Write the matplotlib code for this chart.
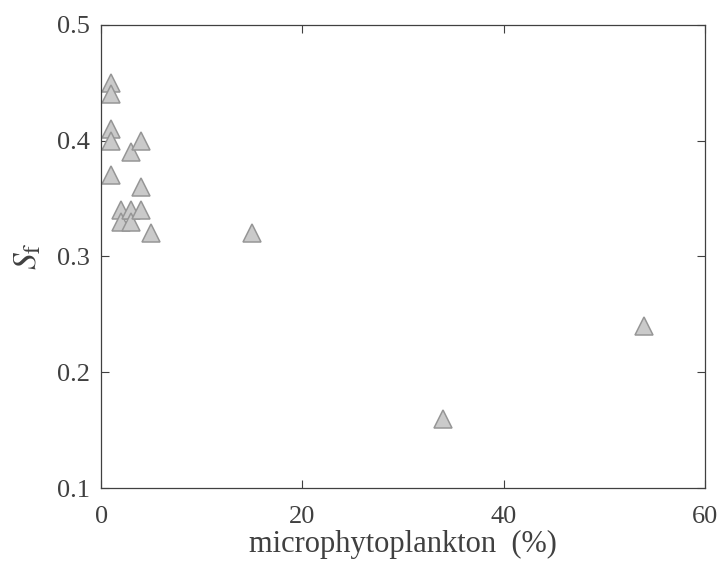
import numpy as np
import matplotlib
matplotlib.use("Agg")
import matplotlib.pyplot as plt

plt.rcParams['font.family'] = ['Liberation Serif', 'DejaVu Serif']
plt.rcParams['mathtext.fontset'] = 'stix'

micro = [1, 1, 1, 1, 1, 2, 2, 3, 3, 3, 4, 4, 4, 5, 15, 34, 54]
sf = [0.45, 0.44, 0.41, 0.40, 0.37, 0.34, 0.33, 0.39, 0.34, 0.33,
      0.40, 0.36, 0.34, 0.32, 0.32, 0.16, 0.24]

axcol = "#404040"

fig = plt.figure(figsize=(7.17, 5.63), dpi=100)
ax = fig.add_axes([0.141, 0.133, 0.842, 0.823])
ax.plot(micro, sf, linestyle="none", marker="^", markersize=12.5,
        markerfacecolor="#cacaca", markeredgecolor="#969696", markeredgewidth=1.1)

ax.set_xlim(0, 60)
ax.set_ylim(0.1, 0.5)
ax.set_xticks([0, 20, 40, 60])
ax.set_yticks([0.1, 0.2, 0.3, 0.4, 0.5])
ax.tick_params(direction="in", length=6, width=0.8, colors=axcol,
               labelsize=19, top=True, right=True)
ax.tick_params(axis="x", pad=13)
ax.tick_params(axis="y", pad=8)
for s in ax.spines.values():
    s.set_color(axcol)
    s.set_linewidth(0.9)

ax.set_xlabel("microphytoplankton  (%)", fontsize=22, color=axcol, labelpad=1)
ax.set_ylabel(r"$\mathit{S}_\mathrm{f}$", fontsize=24, color=axcol, labelpad=10)

plt.savefig("out.png", dpi=100)
